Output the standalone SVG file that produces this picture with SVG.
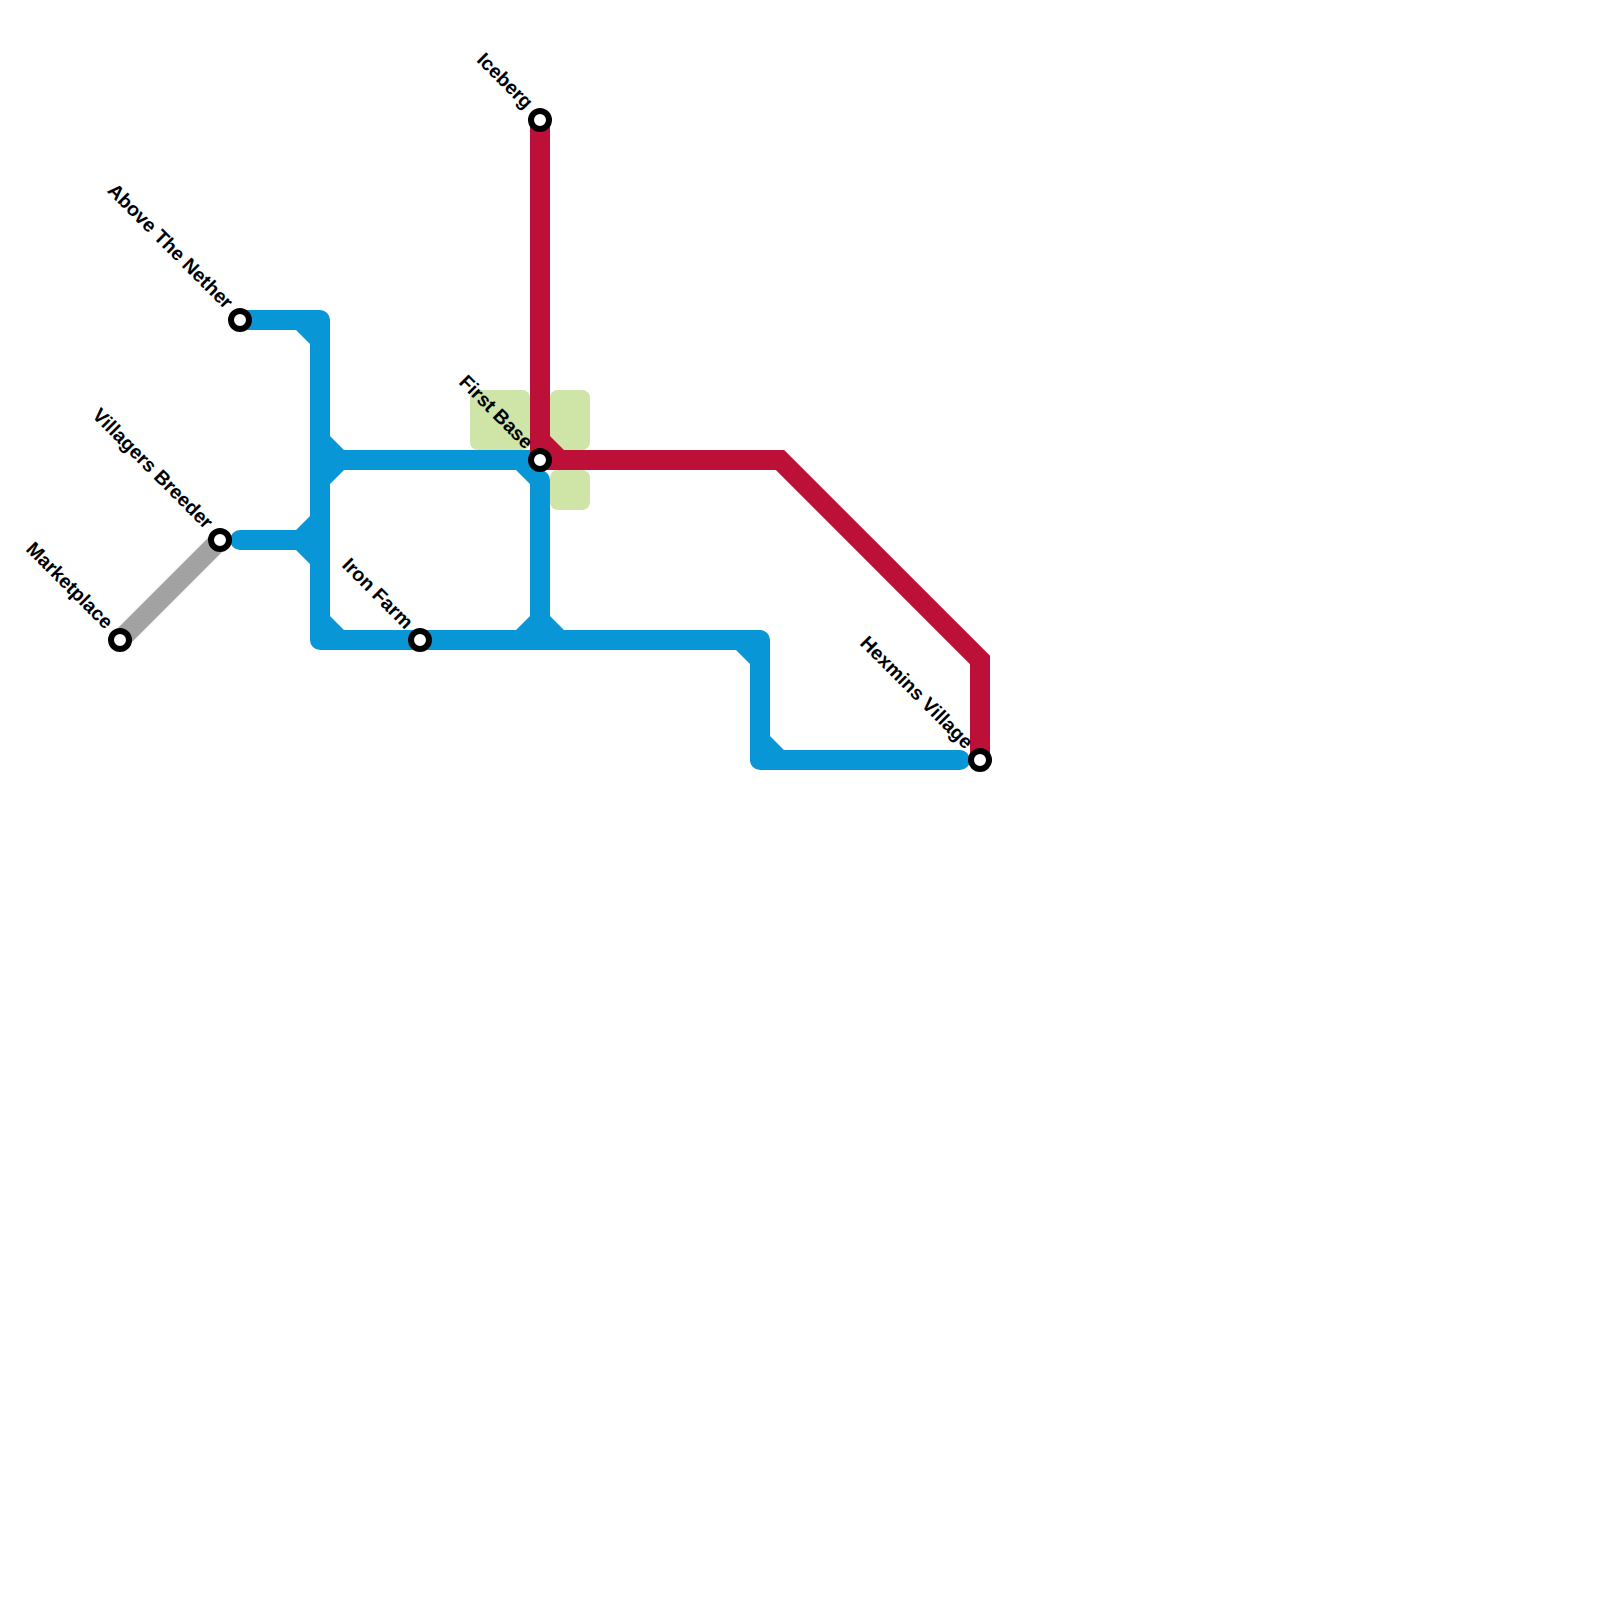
<svg xmlns="http://www.w3.org/2000/svg" width="1600" height="1600" viewBox="0 0 1600 1600">
<style>
.line{fill:none;stroke-width:20;stroke-linejoin:round}
.blue{stroke:#0896d7}
.gray{stroke:#a2a2a2}
.fb{fill:#0896d7}
.fr{fill:#bd1038}
.zone{fill:#cfe4a7}
.st{fill:#fff;stroke:#000;stroke-width:6}
.lb{font-family:"Liberation Sans",Arial,sans-serif;font-weight:700;font-size:19.6px;fill:#000;text-anchor:end}
</style>
<rect width="1600" height="1600" fill="#fff"/>
<g id="zones">
<rect class="zone" x="470" y="390" width="60" height="60" rx="8"/>
<rect class="zone" x="550" y="390" width="40" height="60" rx="8"/>
<rect class="zone" x="550" y="470" width="40" height="40" rx="8"/>
</g>
<g id="connectors">
<path class="line gray" d="M120 640L220 540"/>
<path class="line blue" stroke-linecap="round" d="M240 320H320V640H760V760H960"/>
<path class="line blue" d="M320 460H532"/>
<path class="line blue" stroke-linecap="round" d="M540 480V640"/>
<path class="line blue" stroke-linecap="round" d="M240 540H320"/>
<path class="fb" d="M296 330H311V345ZM330 436V484L344 470V450ZM296 530L310 516V564L296 550ZM330 616L344 630H330ZM516 470L530 484H540V462H516ZM530 616L516 630H564L550 616ZM736 650H751V665ZM770 736L784 750H770Z"/>
<path class="fr" d="M530 120H550V436L564 450H784.140L990 655.860V760H970V664.140L775.860 470H540L530 460Z"/>
</g>
<g id="above-the-nether"><circle class="st" cx="240" cy="320" r="9"/><text class="lb" transform="translate(225 310) rotate(45)">Above The Nether</text></g>
<g id="villagers-breeder"><circle class="st" cx="220" cy="540" r="9"/><text class="lb" transform="translate(205 530) rotate(45)">Villagers Breeder</text></g>
<g id="marketplace"><circle class="st" cx="120" cy="640" r="9"/><text class="lb" transform="translate(105 630) rotate(45)">Marketplace</text></g>
<g id="iron-farm"><circle class="st" cx="420" cy="640" r="9"/><text class="lb" transform="translate(405 630) rotate(45)">Iron Farm</text></g>
<g id="first-base"><circle class="st" cx="540" cy="460" r="9"/><text class="lb" transform="translate(525 450) rotate(45)">First Base</text></g>
<g id="iceberg"><circle class="st" cx="540" cy="120" r="9"/><text class="lb" transform="translate(525 110) rotate(45)">Iceberg</text></g>
<g id="hexmins-village"><circle class="st" cx="980" cy="760" r="9"/><text class="lb" transform="translate(965 750) rotate(45)">Hexmins Village</text></g>
</svg>
